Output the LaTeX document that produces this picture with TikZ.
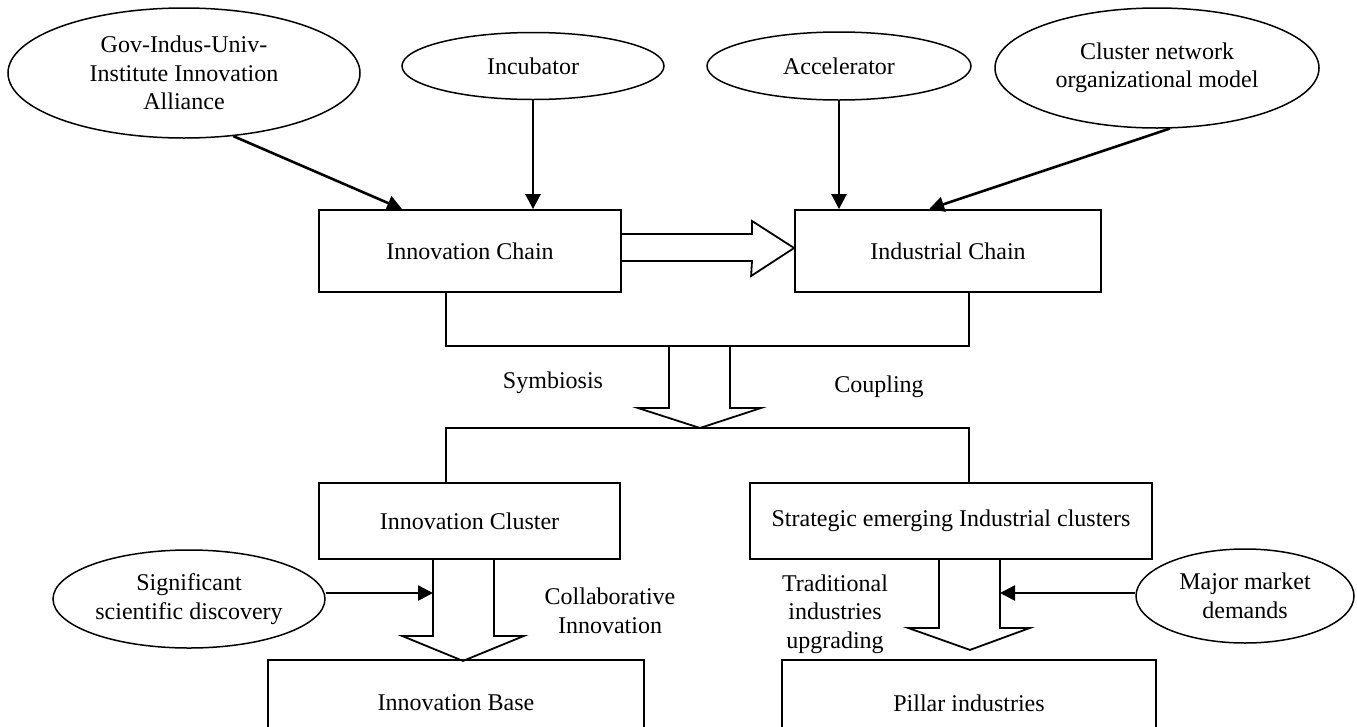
\documentclass[tikz,border=0pt]{standalone}
\usepackage{fontspec}
\setmainfont{Liberation Serif}
\usetikzlibrary{shapes.geometric,arrows.meta,calc}
\begin{document}
\begin{tikzpicture}[x=1pt,y=-1pt,
  every node/.style={font=\fontsize{24}{28.5}\selectfont},
  box/.style={draw,line width=1.8pt,rectangle,inner sep=0pt},
  oval/.style={draw,line width=1.5pt,ellipse,inner sep=0pt,align=center},
  arr/.style={line width=2.6pt,-{Triangle[length=15pt,width=15pt]}},
  blk/.style={line width=1.8pt,line join=miter},
  brk/.style={line width=1.8pt},
  lbl/.style={align=center}]
\useasboundingbox (0,0) rectangle (1357,726);

% ellipses
\node[oval,minimum width=352pt,minimum height=130pt] (gov) at (184,73) {Gov-Indus-Univ-\\Institute Innovation\\Alliance};
\node[oval,minimum width=262pt,minimum height=67pt] (inc) at (533,66) {Incubator};
\node[oval,minimum width=264pt,minimum height=68pt] (acc) at (839,66) {Accelerator};
\node[oval,minimum width=324pt,minimum height=120pt] (clu) at (1157,68) {Cluster network\\organizational model};
\node[oval,minimum width=272pt,minimum height=98pt] (sig) at (189,599) {Significant\\scientific discovery};
\node[oval,minimum width=218pt,minimum height=94pt] (maj) at (1245,596) {Major market\\demands};

% boxes
\node[box,minimum width=302pt,minimum height=82pt] (ic) at (470,251) {Innovation Chain};
\node[box,minimum width=306pt,minimum height=82pt] (indc) at (948,251) {Industrial Chain};
\node[box,minimum width=301pt,minimum height=76pt] (icl) at (469.5,521) {Innovation Cluster};
\node[box,minimum width=402pt,minimum height=76pt] (sc) at (951,521) {Strategic emerging Industrial clusters};
\node[box,minimum width=376pt,minimum height=86pt] (ib) at (456,703) {Innovation Base};
\node[box,minimum width=374pt,minimum height=86pt] (pi) at (969,703) {Pillar industries};

% labels
\node[lbl] (sym) at (553,383) {Symbiosis};
\node[lbl] (cou) at (879,387) {Coupling};
\node[lbl] (col) at (610,611) {Collaborative\\Innovation};
\node[lbl] (tra) at (835,614) {Traditional\\industries\\upgrading};

% thin arrows
\draw[arr] (gov.-52) -- ($(ic.north west)+(84,0)$);
\draw[arr] (inc.south) -- (inc.south |- ic.north);
\draw[arr] (acc.south) -- (acc.south |- indc.north);
\draw[arr] (clu.-78) -- ($(indc.north west)+(135,0)$);
\coordinate (s1) at (433,593);
\coordinate (s2) at (1000,593);
\draw[arr] (s1 -| sig.east) -- (s1);
\draw[arr] (s2 -| maj.west) -- (s2);

% horizontal block arrow
\coordinate (h1) at (752,234);
\coordinate (h2) at (752,261);
\coordinate (ht) at (795,248);
\draw[blk] (ic.east |- h1) -- (h1) -- ++(0,-13) -- (indc.west |- ht) -- ++(-43,28) -- (h2) -- (ic.east |- h2);

% brackets
\coordinate (b1l) at (446,346);
\coordinate (b1r) at (969,346);
\draw[brk] (ic.south -| b1l) -- (b1l) -- (b1r) -- (indc.south -| b1r);
\coordinate (b2l) at (446,428);
\coordinate (b2r) at (969,428);
\draw[brk] (icl.north -| b2l) -- (b2l) -- (b2r) -- (sc.north -| b2r);

% down block arrows
\draw[blk] (669,346) -- ++(0,62) -- ++(-31,0) -- ++(62,20) -- ++(61,-20) -- ++(-31,0) -- ++(0,-62);
\draw[blk] ($(icl.south)+(-36.5,0)$) -- ++(0,76) -- ++(-31,0) -- ++(61,25) -- ++(61,-25) -- ++(-30,0) -- ++(0,-76);
\draw[blk] ($(sc.south)+(-12,0)$) -- ++(0,68) -- ++(-31,0) -- ++(62,22) -- ++(60,-22) -- ++(-30,0) -- ++(0,-68);
\end{tikzpicture}
\end{document}
